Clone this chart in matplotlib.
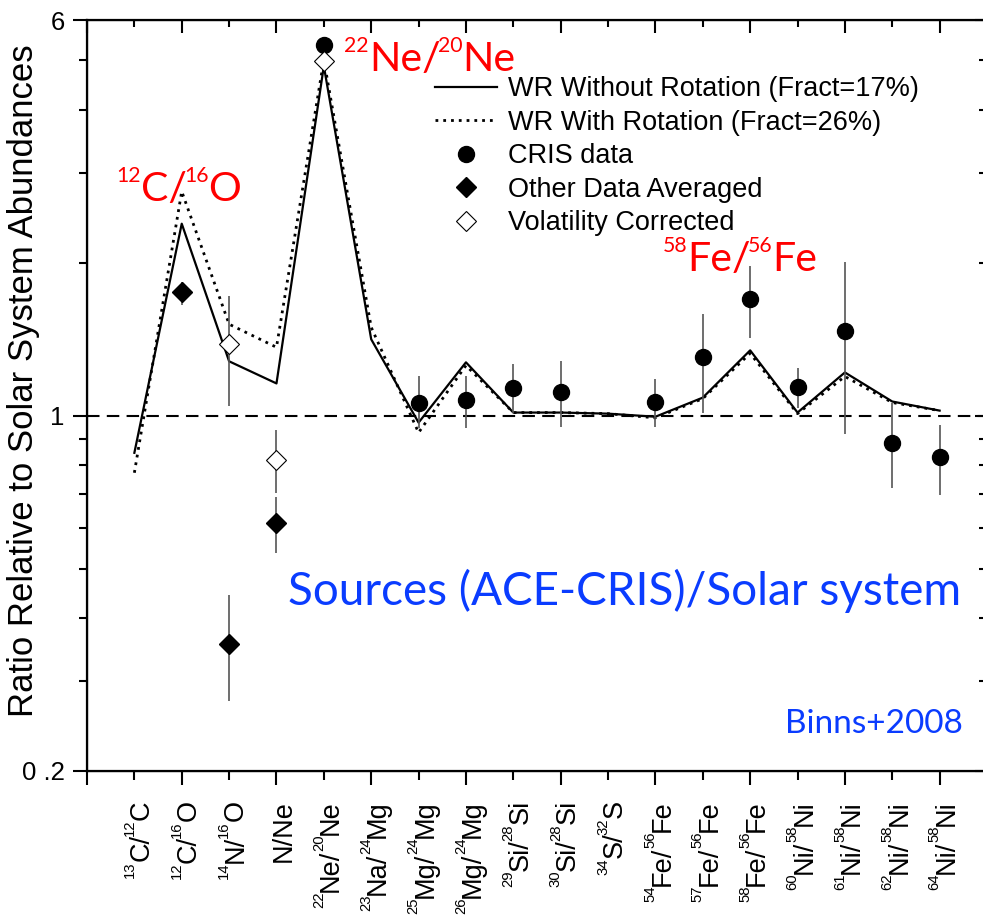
import re
import matplotlib
matplotlib.use("Agg")
import matplotlib.pyplot as plt

plt.rcParams['font.family'] = ['Liberation Sans', 'DejaVu Sans']

# isotope / element ratios along the x axis
ratios = [r'$^{13}$C/$^{12}$C', r'$^{12}$C/$^{16}$O', r'$^{14}$N/$^{16}$O', 'N/Ne',
          r'$^{22}$Ne/$^{20}$Ne', r'$^{23}$Na/$^{24}$Mg', r'$^{25}$Mg/$^{24}$Mg',
          r'$^{26}$Mg/$^{24}$Mg', r'$^{29}$Si/$^{28}$Si', r'$^{30}$Si/$^{28}$Si',
          r'$^{34}$S/$^{32}$S', r'$^{54}$Fe/$^{56}$Fe', r'$^{57}$Fe/$^{56}$Fe',
          r'$^{58}$Fe/$^{56}$Fe', r'$^{60}$Ni/$^{58}$Ni', r'$^{61}$Ni/$^{58}$Ni',
          r'$^{62}$Ni/$^{58}$Ni', r'$^{64}$Ni/$^{58}$Ni']

# WR models
wr_norot = [0.845, 2.385, 1.279, 1.157, 4.87, 1.413, 0.969, 1.273, 1.014, 1.014,
            1.009, 0.995, 1.085, 1.344, 1.014, 1.216, 1.066, 1.023]
wr_rot = [0.772, 2.76, 1.513, 1.363, 5.01, 1.492, 0.926, 1.255, 1.014, 1.014,
          1.009, 0.99, 1.08, 1.326, 1.009, 1.194, 1.061, 1.023]

# CRIS measurements (index, value, lower end, upper end)
cris_idx = [4, 6, 7, 8, 9, 11, 12, 13, 14, 15, 16, 17]
cris_val = [5.36, 1.061, 1.071, 1.131, 1.115, 1.066, 1.302, 1.696, 1.141, 1.466, 0.884, 0.83]
cris_lo = [5.36, 0.947, 0.947, 1.014, 0.951, 0.951, 1.014, 1.42, 1.037, 0.921, 0.72, 0.698]
cris_hi = [5.36, 1.194, 1.194, 1.261, 1.279, 1.178, 1.583, 1.97, 1.238, 2.005, 1.061, 0.96]

# other data averaged
oth_idx = [1, 2, 3]
oth_val = [1.75, 0.356, 0.614]
oth_lo = [1.65, 0.275, 0.536]
oth_hi = [1.83, 0.443, 0.692]

# volatility corrected
vol_idx = [2, 3, 4]
vol_val = [1.381, 0.819, 4.99]
vol_lo = [1.046, 0.704, 4.99]
vol_hi = [1.718, 0.938, 4.99]

W, H = 983, 919
fig = plt.figure(figsize=(W / 100, H / 100), dpi=100)
ax = fig.add_axes([87 / W, (H - 771) / H, 900 / W, (771 - 20) / H])
ax.set_yscale('log')

x = list(range(len(ratios)))
ax.axhline(1.0, color='black', lw=1.5, ls=(0, (6, 3.5)), zorder=1)
l1, = ax.plot(x, wr_norot, color='black', lw=1.6, zorder=2)
l2, = ax.plot(x, wr_rot, color='black', lw=2.0, ls=(0, (1, 1.8)), zorder=2)

def errs(val, lo, hi):
    return [[v - l for v, l in zip(val, lo)], [h - v for v, h in zip(val, hi)]]

ecol = '#555555'
ax.errorbar(cris_idx, cris_val, yerr=errs(cris_val, cris_lo, cris_hi), fmt='none',
            ecolor=ecol, elinewidth=1.2, capsize=0, zorder=3)
ax.errorbar(oth_idx, oth_val, yerr=errs(oth_val, oth_lo, oth_hi), fmt='none',
            ecolor=ecol, elinewidth=1.2, capsize=0, zorder=3)
ax.errorbar(vol_idx, vol_val, yerr=errs(vol_val, vol_lo, vol_hi), fmt='none',
            ecolor=ecol, elinewidth=1.2, capsize=0, zorder=3)

m1, = ax.plot(cris_idx, cris_val, 'o', color='black', ms=11.5, ls='none', zorder=4)
m2, = ax.plot(oth_idx, oth_val, 'D', color='black', ms=9.7, ls='none', zorder=4)
m3, = ax.plot(vol_idx, vol_val, 'D', mfc='white', mec='black', mew=0.8, ms=9.7,
              ls='none', zorder=5)

ax.set_xlim(-1, 18)
ax.set_ylim(0.2, 6)

# x ticks: long at odd positions, short at even ones
major = list(range(-1, 19, 2))
minor = list(range(0, 19, 2))
ax.set_xticks(major, labels=[''] * len(major))
ax.set_xticks(minor, labels=[''] * len(minor), minor=True)
ax.tick_params(axis='x', which='major', direction='out', length=10, width=1.5)
ax.tick_params(axis='x', which='minor', direction='out', length=6.5, width=1.5)

ax.set_yticks([0.2, 1, 6], labels=['0 .2', '1', '6'])
ax.set_yticks([0.3, 0.4, 0.5, 0.6, 0.7, 0.8, 0.9, 2, 3, 4, 5], minor=True)
ax.yaxis.set_minor_formatter(matplotlib.ticker.NullFormatter())
ax.tick_params(axis='y', which='major', direction='out', length=10, width=1.5,
               labelsize=18.5, pad=6)
ax.tick_params(axis='y', which='minor', direction='out', length=6, width=1.5)

for s in ax.spines.values():
    s.set_linewidth(1.6)

# top and right axes with inward ticks
axt = ax.twiny()
axt.set_xlim(ax.get_xlim())
axt.set_xticks(major)
axt.set_xticks(minor, minor=True)
axt.tick_params(axis='x', which='major', direction='in', length=9, width=1.5, labeltop=False)
axt.tick_params(axis='x', which='minor', direction='in', length=5, width=1.5)

axr = ax.twinx()
axr.set_yscale('log')
axr.set_ylim(ax.get_ylim())
axr.set_yticks([0.2, 1, 6])
axr.set_yticks([0.3, 0.4, 0.5, 0.6, 0.7, 0.8, 0.9, 2, 3, 4, 5], minor=True)
axr.yaxis.set_major_formatter(matplotlib.ticker.NullFormatter())
axr.yaxis.set_minor_formatter(matplotlib.ticker.NullFormatter())
axr.tick_params(axis='y', which='major', direction='in', length=9, width=1.5)
axr.tick_params(axis='y', which='minor', direction='in', length=6, width=1.5)

ax.set_ylabel('Ratio Relative to Solar System Abundances', fontsize=25)
ax.yaxis.set_label_coords(-0.052, 0.52)

leg = ax.legend([l1, l2, m1, m2, m3],
                ['WR Without Rotation (Fract=17%)', 'WR With Rotation (Fract=26%)',
                 'CRIS data', 'Other Data Averaged', 'Volatility Corrected'],
                loc='upper left', bbox_to_anchor=(435 / W, 1 - 76 / H),
                bbox_transform=fig.transFigure, frameon=False, fontsize=19.5,
                handlelength=2.3, handletextpad=0.4, labelspacing=0.28,
                borderpad=0, borderaxespad=0)
leg.set_zorder(6)

renderer = fig.canvas.get_renderer()


def rich_text(text, px, py, size, rotation=0, sup_scale=0.55, rise=0.55, tuck=0.1, **kw):
    """Draw text with small raised isotope numbers.

    Horizontal text starts at (px, py) on its baseline; vertical text
    (rotation=90) ends at (px, py), so pieces are laid out top-down.
    """
    pieces = re.split(r'\$\^\{([^}]*)\}\$', text)
    rise_px = rise * size * fig.dpi / 72
    items = [(s, i % 2 == 1) for i, s in enumerate(pieces) if s]
    if rotation == 90:
        items = items[::-1]
    pos = 0.0
    for j, (s, sup) in enumerate(items):
        fs = size * sup_scale if sup else size
        off = rise_px if sup else 0.0
        if rotation == 90:
            tx, ty, ha = px - off, py - pos, 'right'
        else:
            tx, ty, ha = px + pos, py + off, 'left'
        t = fig.text(tx / W, ty / H, s, fontsize=fs, rotation=rotation,
                     rotation_mode='anchor', ha=ha, va='baseline', **kw)
        bb = t.get_window_extent(renderer)
        step = bb.height if rotation == 90 else bb.width
        # pull the piece after a slash in against it
        if rotation == 90:
            nxt = items[j + 1][0] if j + 1 < len(items) else ''
            if nxt.endswith('/'):
                step -= tuck * size
        elif s.endswith('/'):
            step -= tuck * size
        pos += step
    return pos


# category labels under the axis, reading upwards
for i, lab in enumerate(ratios):
    tx = ax.transData.transform((i, 1))[0]
    rich_text(lab, tx + 14, H - 800, 19.5, rotation=90, tuck=0.1)

red = '#ff0000'
blue = '#0a3cff'
label_font = ['Lato', 'DejaVu Sans']
for lab, xd, yd in [(r'$^{12}$C/$^{16}$O', -0.38, 2.648),
                    (r'$^{22}$Ne/$^{20}$Ne', 4.435, 4.764),
                    (r'$^{58}$Fe/$^{56}$Fe', 11.15, 1.926)]:
    px, py = ax.transData.transform((xd, yd))
    rich_text(lab, px, py, 29.5, sup_scale=0.52, rise=0.46, color=red, family=label_font)

ax.text(10.35, 0.425, 'Sources (ACE-CRIS)/Solar system', color=blue, fontsize=33,
        family=label_font, ha='center', va='baseline')
ax.text(15.62, 0.2374, 'Binns+2008', color=blue, fontsize=24,
        family=label_font, ha='center', va='baseline')

fig.savefig('out.png', dpi=100)
